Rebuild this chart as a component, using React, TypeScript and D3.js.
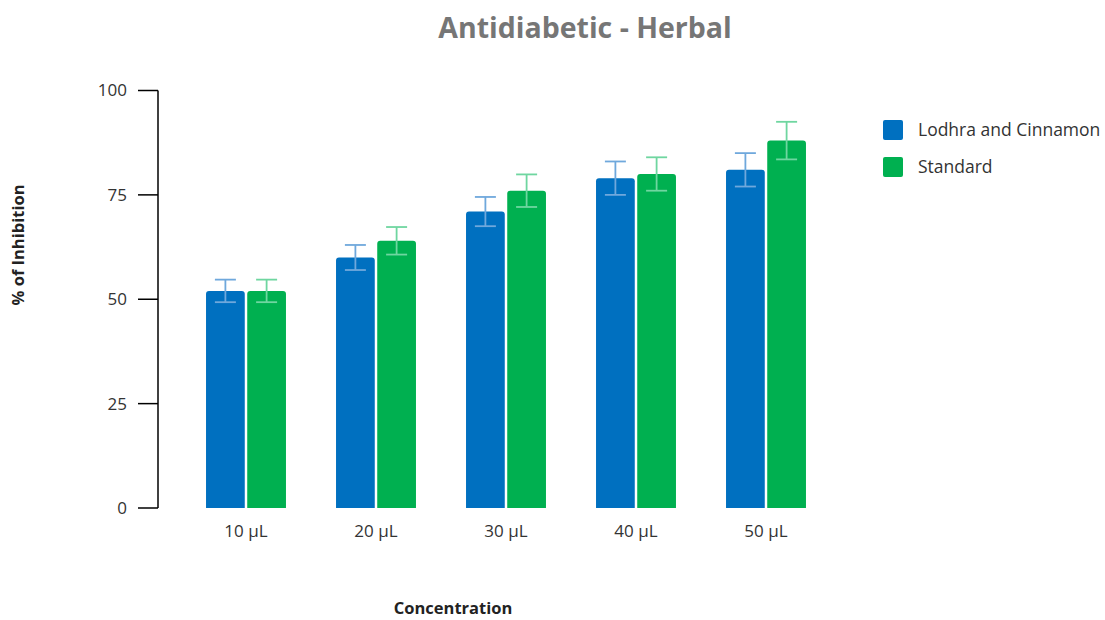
import * as d3 from "d3";
import React from "react";

const categories = ["10 µL", "20 µL", "30 µL", "40 µL", "50 µL"];
const seriesNames = ["Lodhra and Cinnamon", "Standard"];
const lodhraValues = [52, 60, 71, 79, 81];
const lodhraErrors = [2.7, 3, 3.5, 4, 4];
const standardValues = [52, 64, 76, 80, 88];
const standardErrors = [2.7, 3.3, 3.9, 4, 4.5];
const yTicks = [0, 25, 50, 75, 100];

const colors = ["#0070C0", "#00B050"];
const errColors = ["#6FA8DC", "#6FD6A0"];
const font = "'Open Sans', 'Noto Sans', sans-serif";

const App = () => {
	const width = 1105,
		height = 620;
	const axisX = 158;

	const y = d3.scaleLinear().domain([0, 100]).range([508, 90.5]);
	const x0 = d3
		.scaleBand()
		.domain(categories)
		.range([181, 831])
		.paddingInner(0.385)
		.paddingOuter(0.1925);
	const x1 = d3
		.scaleBand()
		.domain(seriesNames)
		.range([0, x0.bandwidth()])
		.paddingInner(0.06);

	const values = [lodhraValues, standardValues];
	const errors = [lodhraErrors, standardErrors];

	const barPath = (x: number, yTop: number, w: number, h: number, r: number) =>
		`M${x},${yTop + h}V${yTop + r}Q${x},${yTop} ${x + r},${yTop}H${x + w - r}Q${x + w},${yTop} ${x + w},${yTop + r}V${yTop + h}Z`;

	return (
		<svg
			width={width}
			height={height}
			style={{ position: "absolute", left: 0, top: 0, background: "#fff" }}
		>
			<text
				x={585}
				y={38}
				textAnchor="middle"
				fontFamily={font}
				fontWeight="bold"
				fontSize={28.5}
				fill="#767676"
			>
				Antidiabetic - Herbal
			</text>

			{/* y axis */}
			<line x1={axisX} x2={axisX} y1={y(100)} y2={y(0)} stroke="#000" strokeWidth={1.5} />
			{yTicks.map((t) => (
				<g key={t}>
					<line x1={axisX - 20} x2={axisX} y1={y(t)} y2={y(t)} stroke="#000" strokeWidth={1.5} />
					<text
						x={127}
						y={y(t)}
						dy="0.35em"
						textAnchor="end"
						fontFamily={font}
						fontSize={17}
						fill="#333"
					>
						{t}
					</text>
				</g>
			))}

			{/* bars */}
			{categories.map((c, i) => (
				<g key={c} transform={`translate(${x0(c)},0)`}>
					{seriesNames.map((s, j) => {
						const v = values[j][i];
						const e = errors[j][i];
						const bx = x1(s)!;
						const bw = x1.bandwidth();
						const cx = bx + bw / 2;
						return (
							<g key={s}>
								<path d={barPath(bx, y(v), bw, y(0) - y(v), 3)} fill={colors[j]} />
								<line x1={cx} x2={cx} y1={y(v + e)} y2={y(v - e)} stroke={errColors[j]} strokeWidth={1.8} />
								<line x1={cx - 10.5} x2={cx + 10.5} y1={y(v + e)} y2={y(v + e)} stroke={errColors[j]} strokeWidth={1.8} />
								<line x1={cx - 10.5} x2={cx + 10.5} y1={y(v - e)} y2={y(v - e)} stroke={errColors[j]} strokeWidth={1.8} />
							</g>
						);
					})}
					<text
						x={x0.bandwidth() / 2}
						y={531}
						dy="0.35em"
						textAnchor="middle"
						fontFamily={font}
						fontSize={17}
						fill="#333"
					>
						{c}
					</text>
				</g>
			))}

			{/* axis titles */}
			<text
				transform={`translate(24,245) rotate(-90)`}
				textAnchor="middle"
				fontFamily={font}
				fontWeight="bold"
				fontSize={16.5}
				fill="#222"
			>
				% of Inhibition
			</text>
			<text
				x={453}
				y={614}
				textAnchor="middle"
				fontFamily={font}
				fontWeight="bold"
				fontSize={16.5}
				fill="#222"
			>
				Concentration
			</text>

			{/* legend */}
			{seriesNames.map((s, j) => (
				<g key={s} transform={`translate(883,${120 + j * 37})`}>
					<rect width={20} height={20} rx={2} fill={colors[j]} />
					<text x={35} y={10} dy="0.35em" fontFamily={font} fontSize={17.5} fill="#333">
						{s}
					</text>
				</g>
			))}
		</svg>
	);
};

export default App;
